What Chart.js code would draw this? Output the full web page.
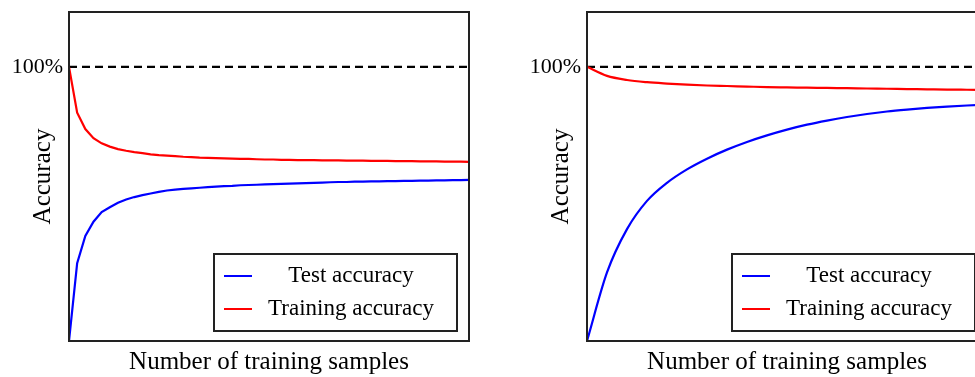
<!DOCTYPE html>
<html>
<head>
<meta charset="utf-8">
<script src="https://cdn.jsdelivr.net/npm/chart.js@4.4.1/dist/chart.umd.min.js"></script>
<style>
  html, body { margin: 0; padding: 0; background: #fff; overflow: hidden; }
  #wrap { position: relative; width: 975px; height: 377px; overflow: hidden; }
  .panel { position: absolute; top: 0; }
  #left { left: 0; }
  #right { left: 518px; }
</style>
</head>
<body>
<div id="wrap">
  <canvas id="left" class="panel" width="480" height="377"></canvas>
  <canvas id="right" class="panel" width="480" height="377"></canvas>
</div>
<script>
'use strict';

// left panel - training set sizes (no tick labels shown on x)
const leftSamples = [1, 2, 3, 4, 5, 6, 7, 8, 9, 10, 11, 12, 13, 14, 15, 16, 17, 18, 19, 20,
  21, 22, 23, 24, 25, 26, 27, 28, 29, 30, 31, 32, 33, 34, 35, 36, 37, 38, 39, 40,
  41, 42, 43, 44, 45, 46, 47, 48, 49, 50];
const leftTest = [0, 28.4, 38.3, 43.5, 47.0, 48.8, 50.4, 51.6, 52.5, 53.2,
  53.8, 54.4, 54.9, 55.2, 55.5, 55.7, 55.9, 56.1, 56.3, 56.5,
  56.6, 56.8, 56.9, 57.0, 57.1, 57.2, 57.3, 57.4, 57.5, 57.6,
  57.7, 57.8, 57.9, 58.0, 58.0, 58.1, 58.1, 58.2, 58.2, 58.3,
  58.3, 58.4, 58.4, 58.5, 58.5, 58.6, 58.6, 58.7, 58.7, 58.8];
const leftTrain = [100, 83.3, 77.3, 74.0, 72.1, 70.9, 70.0, 69.4, 68.9, 68.5,
  68.1, 67.8, 67.6, 67.4, 67.2, 67.1, 66.9, 66.8, 66.7, 66.6,
  66.5, 66.4, 66.4, 66.3, 66.2, 66.2, 66.1, 66.1, 66.0, 66.0,
  66.0, 65.9, 65.9, 65.9, 65.8, 65.8, 65.8, 65.7, 65.7, 65.7,
  65.6, 65.6, 65.6, 65.5, 65.5, 65.5, 65.4, 65.4, 65.4, 65.3];

// right panel - smoother curves, fewer points
const rightSamples = [0, 1, 2, 3, 4, 5, 6, 7, 8, 9, 10, 11, 12, 13, 14, 15, 16, 17, 18, 19, 20];
const rightTest = [0, 25.0, 40.8, 51.1, 57.7, 62.6, 66.5, 69.8, 72.6, 75.0,
  77.1, 78.9, 80.4, 81.7, 82.8, 83.7, 84.4, 85.0, 85.5, 85.9, 86.2];
const rightTrain = [100, 96.7, 95.2, 94.4, 93.9, 93.5, 93.2, 93.0, 92.8, 92.6,
  92.5, 92.4, 92.3, 92.2, 92.1, 92.0, 91.9, 91.8, 91.7, 91.65, 91.6];

const perfect = 100;
const yTickValues = [100];
const yTickText = ['100%'];

const serif = '"Liberation Serif", "DejaVu Serif", serif';

// frame round the plot + legend box in the lower right corner
const boxPlugin = {
  id: 'boxLegend',
  afterDatasetsDraw(chart) {
    const ctx = chart.ctx;
    const a = chart.chartArea;
    ctx.save();
    ctx.strokeStyle = '#222';
    ctx.lineWidth = 2;
    ctx.strokeRect(a.left, a.top, a.right - a.left, a.bottom - a.top);

    const w = 243, h = 77;
    const x0 = a.right - 12 - w, y0 = a.bottom - 10 - h;
    ctx.fillStyle = '#fff';
    ctx.fillRect(x0, y0, w, h);
    ctx.strokeRect(x0, y0, w, h);

    ctx.font = '23px ' + serif;
    ctx.textAlign = 'center';
    ctx.textBaseline = 'middle';
    let row = 0;
    chart.data.datasets.forEach(ds => {
      if (ds.hideInLegend) return;
      const y = y0 + 22 + row * 33;
      ctx.strokeStyle = ds.borderColor;
      ctx.lineWidth = 2;
      ctx.beginPath();
      ctx.moveTo(x0 + 10, y);
      ctx.lineTo(x0 + 38, y);
      ctx.stroke();
      ctx.fillStyle = '#000';
      ctx.fillText(ds.label, x0 + 137, y);
      row++;
    });
    ctx.restore();
  }
};

function makeChart(id, labels, test, train, smooth) {
  return new Chart(document.getElementById(id), {
    type: 'line',
    data: {
      labels: labels,
      datasets: [
        { label: 'Test accuracy', data: test, borderColor: '#0000ff',
          cubicInterpolationMode: smooth ? 'monotone' : 'default' },
        { label: 'Training accuracy', data: train, borderColor: '#ff0000',
          cubicInterpolationMode: smooth ? 'monotone' : 'default' },
        { label: '100%', data: labels.map(() => perfect), borderColor: '#000',
          borderDash: [8, 5], hideInLegend: true }
      ]
    },
    options: {
      responsive: false,
      animation: false,
      events: [],
      layout: { padding: { top: 12, right: 11, left: 0, bottom: 0 } },
      elements: { point: { radius: 0 }, line: { borderWidth: 2.2, tension: 0 } },
      plugins: { legend: { display: false }, tooltip: { enabled: false } },
      scales: {
        x: {
          type: 'category',
          offset: false,
          grid: { display: false, drawTicks: false },
          border: { display: false },
          ticks: { display: false },
          title: { display: true, text: 'Number of training samples', color: '#000',
            font: { family: serif, size: 25 }, padding: { top: 0, bottom: 0 } },
          afterFit(s) { s.height = 36; s.paddingLeft = 0; s.paddingRight = 0; }
        },
        y: {
          min: 0,
          max: 120,
          grid: { display: false, drawTicks: false },
          border: { display: false },
          ticks: {
            stepSize: 20,
            padding: 6,
            color: '#000',
            font: { family: serif, size: 22 },
            callback: v => {
              const k = yTickValues.indexOf(v);
              return k < 0 ? '' : yTickText[k];
            }
          },
          title: { display: true, text: 'Accuracy', color: '#000',
            font: { family: serif, size: 25 }, padding: { top: 28, bottom: 0 } },
          // keep the plot box exactly where the reference has it
          afterFit(s) { s.width = 69; s.paddingTop = 0; s.paddingBottom = 0; }
        }
      }
    },
    plugins: [boxPlugin]
  });
}

makeChart('left', leftSamples, leftTest, leftTrain, false);
makeChart('right', rightSamples, rightTest, rightTrain, true);
</script>
</body>
</html>
